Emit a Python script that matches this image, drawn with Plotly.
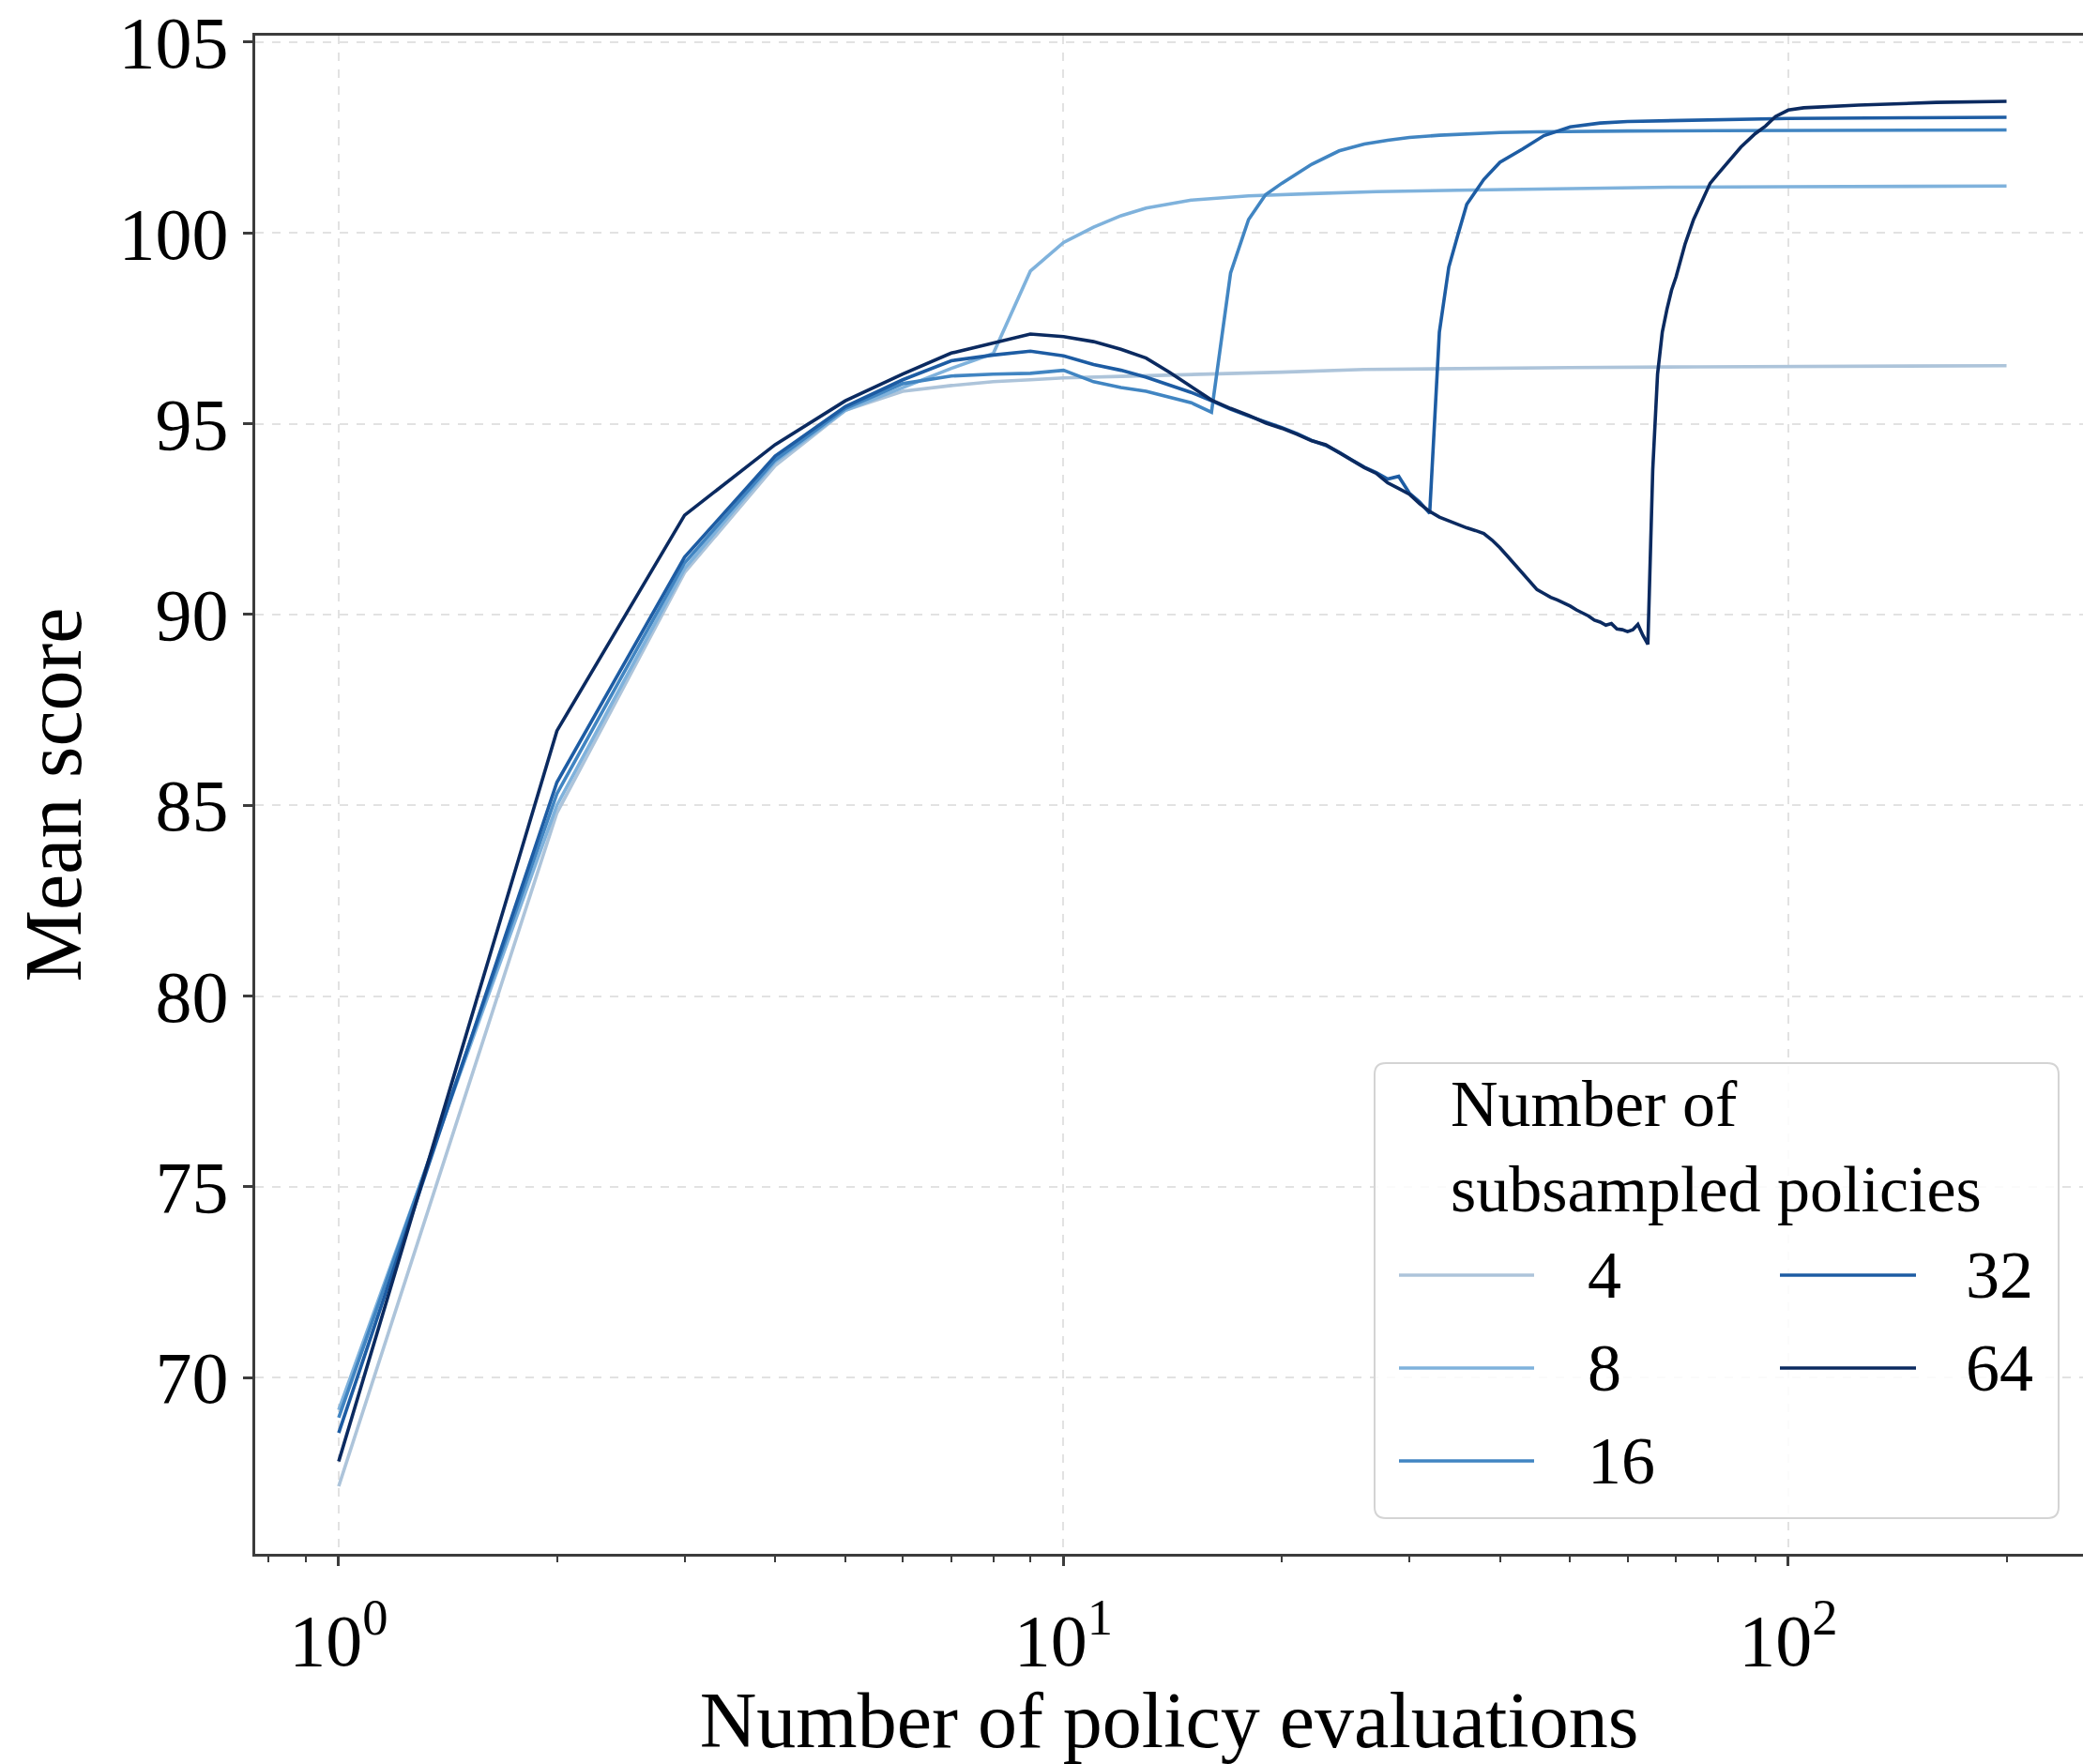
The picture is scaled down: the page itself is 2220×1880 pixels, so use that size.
import plotly.graph_objects as go

# ---------------- data ----------------
policies = [4, 8, 16, 32, 64]
colors = ["#adc4da", "#7fb2dc", "#4185c2", "#1d5ca3", "#0b2a60"]

evals_4 = [1, 2, 3, 4, 5, 6, 7, 8, 9, 10, 12, 15, 20, 26, 35, 50, 75, 100, 150, 200]
score_4 = [67.15, 84.8, 91.1, 93.9, 95.35, 95.85, 96.0, 96.1, 96.15, 96.2, 96.24, 96.28,
           96.35, 96.42, 96.45, 96.47, 96.49, 96.5, 96.51, 96.52]

evals_8 = [1, 2, 3, 4, 5, 6, 7, 8, 9, 10, 11, 12, 13, 15, 18, 22, 27, 35, 43, 55, 70, 100, 150, 200]
score_8 = [69.15, 85.0, 91.2, 94.0, 95.35, 95.95, 96.45, 96.84, 99.0, 99.75, 100.15, 100.45,
           100.65, 100.86, 100.97, 101.03, 101.08, 101.12, 101.14, 101.17, 101.2, 101.21,
           101.22, 101.23]

evals_16 = list(range(1, 23)) + [24, 26, 28, 30, 33, 36, 40, 45, 50, 60, 80, 100, 150, 200]
score_16 = [68.95, 85.3, 91.35, 94.05, 95.4, 96.05, 96.25, 96.3, 96.32, 96.4, 96.1, 95.95,
            95.85, 95.7, 95.55, 95.3, 98.95, 100.35, 101.0, 101.3, 101.55, 101.8,
            102.15, 102.33, 102.43, 102.5, 102.56, 102.6, 102.63, 102.65, 102.66, 102.67,
            102.68, 102.68, 102.69, 102.7]

evals_32 = list(range(1, 37)) + [38, 40, 43, 46, 50, 55, 60, 70, 80, 100, 150, 200]
score_32 = [68.55, 85.6, 91.5, 94.15, 95.45, 96.15, 96.65, 96.8, 96.9, 96.78, 96.55, 96.4,
            96.22, 96.02, 95.82, 95.6,
            95.38, 95.2, 95.05, 94.9, 94.74, 94.56, 94.43, 94.25, 94.05, 93.86, 93.72, 93.55,
            93.62, 93.18, 92.95, 92.65,
            97.4, 99.1, 99.95, 100.75,
            101.4, 101.85, 102.2, 102.55, 102.78, 102.88, 102.92, 102.95, 102.97, 103.0,
            103.02, 103.03]

evals_64 = list(range(1, 71)) + [72, 74, 76, 78, 80, 83, 86, 90, 93, 96, 100, 105, 115,
                                 125, 140, 160, 200]
score_64 = [67.8, 86.95, 92.6, 94.45, 95.6, 96.3, 96.85, 97.12, 97.35, 97.28, 97.15, 96.95,
            96.72, 96.35, 95.98, 95.62,
            95.4, 95.22, 95.02, 94.88, 94.72, 94.55, 94.45, 94.25, 94.05, 93.85, 93.7, 93.45,
            93.3, 93.15, 92.9, 92.7,
            92.55, 92.45, 92.35, 92.27, 92.2, 92.12, 91.95, 91.75, 91.52, 91.3, 91.08, 90.85,
            90.65, 90.55, 90.45, 90.38,
            90.3, 90.22, 90.12, 90.05, 89.96, 89.85, 89.8, 89.72, 89.76, 89.62, 89.6, 89.55,
            89.6, 89.74, 89.45, 89.22,
            93.8, 96.3, 97.4, 98.0, 98.5, 98.85,
            99.7, 100.35, 100.85, 101.3, 101.55, 101.9, 102.25, 102.6, 102.8, 103.05, 103.22,
            103.28, 103.32, 103.35, 103.38, 103.42, 103.45]

series_x = [evals_4, evals_8, evals_16, evals_32, evals_64]
series_y = [score_4, score_8, score_16, score_32, score_64]

x_tick_vals = [1, 10, 100]
x_tick_text = ["10<sup>0</sup>", "10<sup>1</sup>", "10<sup>2</sup>"]
x_minor_vals = [0.8, 0.9, 2, 3, 4, 5, 6, 7, 8, 9, 20, 30, 40, 50, 60, 70, 80, 90, 200]
y_tick_vals = [70, 75, 80, 85, 90, 95, 100, 105]

legend_title = "Number of<br>subsampled policies"

# ---------------- figure ----------------
W, H = 2220, 1880
ML, MR, MT, MB = 272, 0, 38, 224
PW, PH = W - ML - MR, H - MT - MB
FONT = "Liberation Serif"
AX = "#3c3c3c"


def px(xp):
    return (xp - ML) / PW


def py(yp):
    return (H - MB - yp) / PH


fig = go.Figure()
for n, c, xs, ys in zip(policies, colors, series_x, series_y):
    fig.add_trace(go.Scatter(x=xs, y=ys, mode="lines", name=str(n),
                             line=dict(color=c, width=3.6), showlegend=False))

fig.update_layout(
    width=W, height=H,
    margin=dict(l=ML, r=MR, t=MT, b=MB, autoexpand=False),
    paper_bgcolor="white", plot_bgcolor="white",
    font=dict(family=FONT, color="black"),
    showlegend=False,
)

fig.update_xaxes(
    type="log", range=[-0.1152, 2.4065],
    tickmode="array", tickvals=x_tick_vals, ticktext=x_tick_text,
    ticks="outside", ticklen=10, tickwidth=2.5, tickcolor=AX,
    ticklabelstandoff=12,
    showline=True, linecolor=AX, linewidth=3, mirror=True,
    showgrid=True, gridcolor="#e2e2e2", gridwidth=1.5, griddash="dash",
    zeroline=False,
    minor=dict(tickmode="array", tickvals=x_minor_vals, ticks="outside", ticklen=6,
               tickwidth=2, tickcolor=AX, showgrid=False),
    tickfont=dict(family=FONT, size=78, color="black"),
    title=dict(text="Number of policy evaluations", font=dict(family=FONT, size=84),
               standoff=14),
    automargin=False,
)

fig.update_yaxes(
    range=[65.38, 105.17],
    tickmode="array", tickvals=y_tick_vals,
    ticks="outside", ticklen=10, tickwidth=2.5, tickcolor=AX,
    showline=True, linecolor=AX, linewidth=3, mirror=False,
    showgrid=True, gridcolor="#e2e2e2", gridwidth=1.5, griddash="dash",
    zeroline=False,
    tickfont=dict(family=FONT, size=78, color="black"),
    title=dict(text="Mean score", font=dict(family=FONT, size=86), standoff=12),
    automargin=False,
)

# ---------------- legend (drawn as shapes + text) ----------------
bx0, bx1, by0, by1 = px(1465), px(2194), py(1618), py(1133)
rx, ry = 12 / PW, 12 / PH
path = (f"M {bx0+rx},{by0} L {bx1-rx},{by0} Q {bx1},{by0} {bx1},{by0+ry} "
        f"L {bx1},{by1-ry} Q {bx1},{by1} {bx1-rx},{by1} L {bx0+rx},{by1} "
        f"Q {bx0},{by1} {bx0},{by1-ry} L {bx0},{by0+ry} Q {bx0},{by0} {bx0+rx},{by0} Z")
fig.add_shape(type="path", path=path, xref="paper", yref="paper",
              line=dict(color="#d4d4d4", width=2),
              fillcolor="rgba(255,255,255,0.85)", layer="above")

fig.add_annotation(x=px(1544), y=py(1222), xref="paper", yref="paper", text=legend_title,
                   showarrow=False, xanchor="left", yanchor="middle", align="left",
                   font=dict(family=FONT, size=70, color="black"))

entry_pos = [(0, 1359), (0, 1458), (0, 1557), (1, 1359), (1, 1458)]
col_line = [(1491, 1635), (1897, 2042)]
col_text = [1690, 2093]
for n, c, (col, yp) in zip(policies, colors, entry_pos):
    x0, x1 = col_line[col]
    fig.add_shape(type="line", x0=px(x0), x1=px(x1), y0=py(yp), y1=py(yp),
                  xref="paper", yref="paper", line=dict(color=c, width=3.6), layer="above")
    fig.add_annotation(x=px(col_text[col]), y=py(yp), xref="paper", yref="paper",
                       text=str(n), showarrow=False, xanchor="left", yanchor="middle",
                       font=dict(family=FONT, size=72, color="black"))

fig.write_html("out.html")
